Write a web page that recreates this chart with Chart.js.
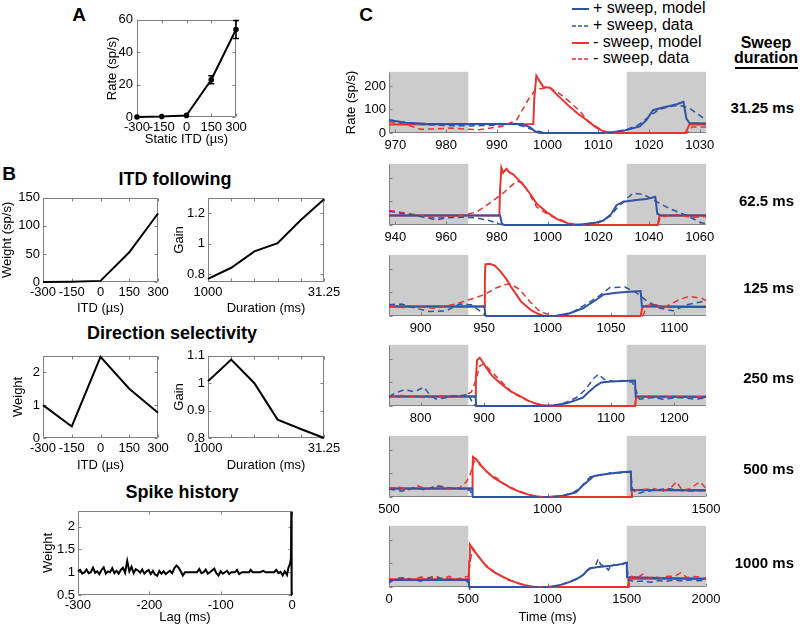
<!DOCTYPE html>
<html>
<head>
<meta charset="utf-8">
<script src="https://cdn.jsdelivr.net/npm/chart.js@4.4.0/dist/chart.umd.min.js"></script>
<style>
  body { margin: 0; background: #fff; }
  #fig { position: relative; width: 800px; height: 628px; overflow: hidden; background: #fff;
         font-family: 'Liberation Sans', Arial, Helvetica, sans-serif; color: #000; }
  #fig canvas { position: absolute; }
  .t { position: absolute; transform: translate(-50%, -50%); white-space: nowrap; line-height: 1; font-weight: bold; }
  .r { position: absolute; transform: translate(-100%, -50%); white-space: nowrap; line-height: 1; font-weight: bold; font-size: 15px; }
  .lg { position: absolute; transform: translate(0, -50%); white-space: nowrap; line-height: 1; font-size: 16px; }
  .lg svg { vertical-align: middle; margin-right: 4px; }
</style>
</head>
<body>
<div id="fig">
  <div class="t" style="left:79px;top:14px;font-size:19px">A</div>
  <div class="t" style="left:9px;top:173px;font-size:19px">B</div>
  <div class="t" style="left:366px;top:14px;font-size:19px">C</div>
  <div class="t" style="left:175px;top:179px;font-size:18px">ITD following</div>
  <div class="t" style="left:172px;top:333px;font-size:18px">Direction selectivity</div>
  <div class="t" style="left:182px;top:492px;font-size:18px">Spike history</div>

  <div class="lg" style="left:572px;top:8px"><svg width="17" height="4"><line x1="0" y1="2" x2="17" y2="2" stroke="#3153a4" stroke-width="2"/></svg>+ sweep, model</div>
  <div class="lg" style="left:572px;top:25px"><svg width="17" height="4"><line x1="0" y1="2" x2="17" y2="2" stroke="#3153a4" stroke-width="1.5" stroke-dasharray="4,2"/></svg>+ sweep, data</div>
  <div class="lg" style="left:572px;top:42px"><svg width="17" height="4"><line x1="0" y1="2" x2="17" y2="2" stroke="#e8332f" stroke-width="2"/></svg>- sweep, model</div>
  <div class="lg" style="left:572px;top:58px"><svg width="17" height="4"><line x1="0" y1="2" x2="17" y2="2" stroke="#e8332f" stroke-width="1.5" stroke-dasharray="4,2"/></svg>- sweep, data</div>

  <div class="t" style="left:766px;top:43px;font-size:16px">Sweep</div>
  <div class="t" style="left:766px;top:58px;font-size:16px">duration</div>
  <div style="position:absolute;left:735px;top:67px;width:63px;height:2px;background:#000"></div>
</div>

<script>
// ---- panel A: static ITD tuning
const itdX = [-300, -150, 0, 150, 300];
const aRate = [0, 0.3, 1, 23, 54];
const aErr = [0, 0, 0, 2.5, 5.5];

// ---- panel B: model filters
const itdWeight = [0, 0.5, 2, 53, 122];
const durLabels = ['1000', '500', '250', '125', '62.5', '31.25'];
const itdGain = [0.77, 0.843, 0.95, 1.004, 1.155, 1.29];
const dirWeight = [1.0, 0.35, 2.47, 1.5, 0.77];
const dirGain = [1.007, 1.086, 1.0, 0.867, 0.833, 0.8];

const spikeLag = [-300, -297, -294, -291, -288, -285, -282, -279, -276, -273, -270, -267, -264, -261, -258, -255,
  -252, -249, -246, -243, -240, -237, -234, -231, -228, -225, -222, -219, -216, -213, -210, -207, -204, -201,
  -198, -195, -192, -189, -186, -183, -180, -177, -174, -171, -168, -165, -162, -159, -156, -153, -150, -140,
  -133, -130, -127, -124, -121, -118, -115, -112, -109, -106, -103, -100, -97, -94, -91, -88, -85, -80, -77,
  -74, -70, -60, -58, -55, -45, -40, -37, -25, -22, -19, -16, -13, -10, -7, -5, -3, -1.5, -1, -0.5, 0];
const spikeWeight = [1.02, 1.05, 0.97, 1.0, 1.06, 0.98, 1.0, 1.1, 0.99, 1.02, 0.96, 1.05, 1.11, 0.97, 1.02, 1.0,
  1.09, 0.98, 1.03, 0.97, 1.05, 1.1, 0.99, 1.25, 1.02, 1.12, 0.98, 1.07, 1.04, 0.99, 1.06, 0.97, 1.02, 1.05,
  0.96, 1.03, 0.95, 0.92, 1.03, 0.97, 1.02, 0.96, 1.0, 1.03, 0.98, 1.09, 1.15, 1.1, 1.02, 0.93, 1.0, 1.0,
  1.0, 1.07, 0.98, 1.0, 1.06, 0.97, 1.0, 1.04, 1.08, 0.98, 0.93, 1.02, 0.97, 1.0, 1.03, 0.96, 1.0, 1.0, 1.05,
  0.96, 1.0, 1.0, 1.05, 1.0, 1.0, 1.03, 1.0, 1.0, 1.05, 0.98, 1.01, 0.93, 1.02, 0.94, 1.1, 1.18, 1.3, 2.33, 0.5, 0.5];

// ---- panel C: sweep responses, one entry per sweep duration
const sweepNames = ['31.25 ms', '62.5 ms', '125 ms', '250 ms', '500 ms', '1000 ms'];
const cRange = [[968.75, 1031.25], [937.5, 1062.5], [875, 1125], [750, 1250], [500, 1500], [0, 2000]];
const cTicks = [
  [970, 980, 990, 1000, 1010, 1020, 1030],
  [940, 960, 980, 1000, 1020, 1040, 1060],
  [900, 950, 1000, 1050, 1100],
  [800, 900, 1000, 1100, 1200],
  [500, 1000, 1500],
  [0, 500, 1000, 1500, 2000]
];
const cShade = [
  [[968.75, 984.375], [1015.625, 1031.25]],
  [[937.5, 968.75], [1031.25, 1062.5]],
  [[875, 937.5], [1062.5, 1125]],
  [[750, 875], [1125, 1250]],
  [[500, 750], [1250, 1500]],
  [[0, 500], [1500, 2000]]
];
const rateTicks = [0, 100, 200];

const blueModel = [
  [[968.75,55],[972,44],[976,39],[980,38],[990,38],[994.9,38],[996.5,25],[997.5,8],[998.2,1],[999,0],[1011,0],[1013,4],[1015,10],[1018.2,28],[1019.5,55],[1020.8,97],[1022.8,108],[1025.5,122],[1026.8,132],[1027.4,60],[1028,42],[1031.25,40]],
  [[937.5,40],[981.3,40],[982,5],[983,0],[1008,0],[1014,3],[1019,10],[1022,19],[1025,45],[1027.2,84],[1030,99],[1035,106],[1039,110],[1042.5,120],[1043.3,48],[1045,40],[1062.5,40]],
  [[875,40],[950.3,40],[951,3],[952,0],[1000,0],[1007,1],[1017.6,12],[1028,33],[1038.7,70],[1044,91],[1050,96],[1054.5,99],[1065,103],[1073.4,106],[1074.5,40],[1125,38]],
  [[750,40],[886.5,40],[887.5,3],[889,0],[995,0],[1010,3],[1030,12],[1045,25],[1056,36],[1065,60],[1077,87],[1085,100],[1100,104],[1120,106],[1138,108],[1139,40],[1250,38]],
  [[500,36],[762.5,36],[763.5,3],[765,0],[1000,0],[1050,5],[1090,20],[1112,50],[1130,70],[1145,88],[1170,95],[1200,100],[1230,105],[1263,108],[1264.5,30],[1500,28]],
  [[0,30],[504,30],[505.5,3],[507,0],[1000,0],[1036,3],[1090,10],[1141,22],[1185,35],[1225,51],[1250,70],[1267,80],[1310,84],[1352,87],[1400,90],[1436,94],[1470,98],[1500,104],[1502,42],[1700,38],[2000,35]]
];
const blueData = [
  [[968.75,55],[972,45],[976,35],[980,32],[985,30],[990,33],[993,38],[995,30],[997,15],[999,3],[1000,0],[1012,0],[1014,8],[1016,18],[1018,35],[1020,70],[1022,100],[1024,112],[1026,118],[1028,105],[1030,75],[1031.25,55]],
  [[937.5,58],[945,45],[952,32],[956,22],[960,30],[966,33],[972,30],[977,19],[981,4],[983,0],[1012,0],[1020.6,12],[1025,40],[1027.2,70],[1031,110],[1033.8,135],[1037.8,130],[1043,99],[1048,70],[1054.9,41],[1060,12],[1062.5,5]],
  [[875,48],[885,51],[896,33],[907,19],[920,22],[930.8,51],[940,48],[949,12],[952,0],[1005,0],[1017,7],[1038.7,77],[1049,120],[1061,123],[1070,99],[1078,65],[1088.7,33],[1099,22],[1110,48],[1123,62],[1125,60]],
  [[750,40],[760,55],[775,70],[790,60],[805,80],[815,45],[824.7,29],[840,35],[851,43],[867,45],[875,51],[883,7],[887,0],[1000,0],[1020,5],[1045.8,36],[1060,70],[1072,115],[1080,135],[1090,112],[1105,104],[1118,108],[1134,101],[1145,29],[1166,36],[1182,29],[1208,36],[1234,29],[1250,35]],
  [[500,33],[540,25],[580,39],[615,30],[650,48],[690,39],[730,35],[755,29],[762,10],[766,0],[1005,0],[1040,4],[1080,18],[1105,40],[1120,65],[1135,85],[1150,90],[1175,95],[1200,103],[1230,102],[1262,106],[1268,35],[1281,14],[1300,20],[1335,29],[1380,36],[1420,28],[1445,25],[1500,28]],
  [[0,18],[40,35],[100,40],[150,30],[200,25],[260,40],[300,38],[360,35],[420,30],[470,33],[500,20],[510,0],[1010,0],[1060,5],[1120,18],[1180,32],[1230,55],[1270,78],[1300,85],[1320,120],[1335,95],[1360,88],[1385,72],[1400,92],[1450,95],[1500,102],[1510,30],[1550,22],[1600,25],[1650,20],[1700,28],[1750,24],[1800,30],[1850,25],[1900,30],[1950,27],[2000,28]]
];
const redModel = [
  [[968.75,36],[980,37],[997.2,38],[997.4,150],[997.8,243],[998.6,215],[999.2,195],[1000.5,192],[1002,160],[1004.4,111],[1006,82],[1007.7,55],[1009.5,25],[1011,7],[1012,0],[1027.2,0],[1028,36],[1031.25,36]],
  [[937.5,40],[981,40],[981.3,150],[981.8,243],[982.5,222],[983.8,239],[985.1,222],[986.5,215],[987.8,200],[990.4,171],[993,135],[995.7,91],[999.6,55],[1003.6,26],[1008.8,4],[1011,0],[1043.5,0],[1044.2,40],[1062.5,40]],
  [[875,40],[950.3,40],[950.6,150],[951,219],[954.5,222],[958.4,214],[962.4,193],[967.6,157],[971,125],[975.5,91],[979,62],[983.4,41],[987,25],[991.3,12],[996.6,1],[998,0],[1073.4,0],[1075,40],[1083,48],[1090,40],[1125,40]],
  [[750,40],[886,40],[887,120],[889,195],[893,205],[897,190],[903,165],[912,130],[920,110],[930,87],[942,62],[956,43],[970,22],[982,10],[995,1],[1000,0],[1138,0],[1140,40],[1250,40]],
  [[500,36],[762,36],[763.5,120],[765,170],[776,159],[790,135],[807,109],[830,82],[860,58],[885,38],[913,22],[940,10],[965,3],[980,0],[1264,0],[1266,30],[1500,30]],
  [[0,33],[504,33],[506,110],[510,181],[531,159],[570,125],[615,87],[665,62],[720,43],[770,27],[825,14],[860,7],[888,3],[920,0],[1508,0],[1512,35],[2000,35]]
];
const redData = [
  [[968.75,48],[971,40],[973,30],[975,16],[978,17],[980.7,21],[983.5,17],[986.6,14],[991,28],[993.9,55],[996.5,153],[997.8,187],[1000.5,192],[1002.5,165],[1004.5,130],[1006.5,90],[1008,50],[1010,22],[1011.5,6],[1013,0],[1027.5,0],[1028.5,25],[1031.25,25]],
  [[937.5,62],[945.6,48],[956,30],[964,36],[972,55],[977,91],[982.5,135],[987.8,186],[990,181],[993,130],[995.7,77],[1000.9,40],[1008.8,7],[1012,0],[1043.5,0],[1044.5,33],[1051,45],[1056,33],[1062.5,35]],
  [[875,41],[886,36],[900,38],[912,33],[928,51],[938.7,70],[950.5,91],[959.7,120],[970,138],[978,113],[986,62],[994,19],[1002,4],[1006,0],[1075,0],[1078,33],[1083,55],[1091,33],[1104,70],[1112,84],[1122,74],[1125,65]],
  [[750,38],[770,45],[790,40],[810,35],[830,42],[850,38],[870,45],[880,60],[887,110],[893,170],[900,180],[910,150],[925,110],[945,55],[966.8,25],[980,12],[993,4],[1010,0],[1138,0],[1141,35],[1160,42],[1180,35],[1200,40],[1220,36],[1250,40]],
  [[500,36],[530,43],[560,29],[590,48],[620,33],[650,43],[690,35],[723,39],[744,65],[755,91],[768,152],[780,145],[800,118],[820,95],[840,80],[860,58],[880,45],[900,30],[920,20],[945,8],[965,3],[985,0],[1266,0],[1268,29],[1300,32],[1334,36],[1365,25],[1390,40],[1407,65],[1425,29],[1450,35],[1481,65],[1500,36]],
  [[0,20],[50,35],[100,40],[150,30],[200,42],[250,38],[290,48],[330,35],[380,45],[420,32],[470,42],[500,45],[515,120],[530,165],[560,135],[600,100],[640,78],[680,55],[720,42],[750,30],[790,22],[820,15],[860,8],[900,3],[940,0],[1510,0],[1530,45],[1570,40],[1600,55],[1640,38],[1680,44],[1720,38],[1760,46],[1800,45],[1840,60],[1880,40],[1920,45],[1960,42],[2000,38]]
];

const BLUE = '#3153a4', RED = '#e8332f';
Chart.defaults.font.family = "'Liberation Sans', Arial, Helvetica, sans-serif";
Chart.defaults.font.size = 13;
Chart.defaults.color = '#000';
Chart.defaults.animation = false;
Chart.defaults.plugins.legend.display = false;
Chart.defaults.plugins.tooltip.enabled = false;

// grey stimulus-free zones behind the traces
const shade = {
  id: 'shade',
  beforeDatasetsDraw(chart, args, opts) {
    if (!opts.ranges) return;
    const { ctx, chartArea: a, scales: { x } } = chart;
    ctx.save();
    ctx.fillStyle = '#cccccc';
    opts.ranges.forEach(([s, e]) => {
      const x0 = x.getPixelForValue(s), x1 = x.getPixelForValue(e);
      ctx.fillRect(x0, a.top, x1 - x0, a.bottom - a.top);
    });
    ctx.restore();
  }
};

// matlab-like axes: box + inward ticks
const frame = {
  id: 'frame',
  beforeDatasetsDraw(chart, args, opts) {
    const { ctx, chartArea: a, scales: { x, y } } = chart;
    const L = Math.round(a.left) + 0.5, R = Math.round(a.right) - 0.5;
    const T = Math.round(a.top) + 0.5, B = Math.round(a.bottom) - 0.5;
    const k = 3;
    ctx.save();
    ctx.strokeStyle = '#808080';
    ctx.lineWidth = 1;
    ctx.beginPath();
    if (opts.box) ctx.rect(L, T, R - L, B - T);
    else { ctx.moveTo(L, T); ctx.lineTo(L, B); ctx.lineTo(R, B); }
    x.ticks.forEach((t, i) => {
      const px = Math.round(x.getPixelForTick(i)) + 0.5;
      ctx.moveTo(px, B); ctx.lineTo(px, B - k);
      if (opts.box) { ctx.moveTo(px, T); ctx.lineTo(px, T + k); }
    });
    y.ticks.forEach((t, i) => {
      const py = Math.round(y.getPixelForTick(i)) + 0.5;
      ctx.moveTo(L, py); ctx.lineTo(L + k, py);
      if (opts.box) { ctx.moveTo(R, py); ctx.lineTo(R - k, py); }
    });
    ctx.stroke();
    ctx.restore();
  }
};

const errbars = {
  id: 'errbars',
  afterDatasetsDraw(chart, args, opts) {
    if (!opts.err) return;
    const { ctx, scales: { x, y } } = chart;
    ctx.save();
    ctx.strokeStyle = '#000';
    ctx.lineWidth = 1.5;
    opts.xs.forEach((v, i) => {
      const e = opts.err[i];
      if (!e) return;
      const px = x.getPixelForValue(v);
      const y0 = y.getPixelForValue(opts.ys[i] - e), y1 = y.getPixelForValue(opts.ys[i] + e);
      ctx.beginPath();
      ctx.moveTo(px, y0); ctx.lineTo(px, y1);
      ctx.moveTo(px - 3, y0); ctx.lineTo(px + 3, y0);
      ctx.moveTo(px - 3, y1); ctx.lineTo(px + 3, y1);
      ctx.stroke();
    });
    ctx.restore();
  }
};
Chart.register(shade, frame, errbars);

const fig = document.getElementById('fig');

function linAxis(min, max, ticks, title, hide, pad) {
  return {
    type: 'linear', min, max,
    grid: { display: false, drawTicks: false },
    border: { display: false },
    afterBuildTicks: s => { s.ticks = ticks.map(v => ({ value: v })); },
    ticks: { autoSkip: false, maxRotation: 0, padding: pad || 3, callback: v => hide ? '' : String(v) },
    title: title ? { display: true, text: title, padding: 0 } : { display: false }
  };
}

function durAxis(title) {
  return {
    type: 'category', offset: false,
    grid: { display: false, drawTicks: false },
    border: { display: false },
    ticks: { autoSkip: false, maxRotation: 0, padding: 3,
             callback: (v, i) => (i === 0 || i === durLabels.length - 1) ? durLabels[i] : '' },
    title: { display: true, text: title, padding: 0 }
  };
}

// box = plot area [left, top, width, height]; m = margins [top, right, bottom, left]
function makeChart(box, m, xAxis, yAxis, data, plugins) {
  const c = document.createElement('canvas');
  c.width = box[2] + m[1] + m[3];
  c.height = box[3] + m[0] + m[2];
  c.style.left = (box[0] - m[3]) + 'px';
  c.style.top = (box[1] - m[0]) + 'px';
  c.style.width = c.width + 'px';
  c.style.height = c.height + 'px';
  fig.appendChild(c);
  xAxis.afterFit = s => { s.height = m[2]; };
  yAxis.afterFit = s => { s.width = m[3]; };
  return new Chart(c, {
    type: 'line',
    data,
    options: {
      responsive: false,
      layout: { padding: { top: m[0], right: m[1], left: 0, bottom: 0 } },
      scales: { x: xAxis, y: yAxis },
      plugins
    }
  });
}

function blackLine(pts, w) {
  return { data: pts, borderColor: '#000', borderWidth: w || 2, pointRadius: 0, tension: 0, clip: 3 };
}

// A
makeChart([137, 18, 99, 99], [10, 25, 30, 32],
  linAxis(-300, 300, itdX, 'Static ITD (µs)'),
  linAxis(0, 60, [0, 20, 40, 60], 'Rate (sp/s)', false, 4),
  { datasets: [Object.assign(blackLine(itdX.map((x, i) => ({ x, y: aRate[i] }))),
      { pointRadius: 1.8, pointBackgroundColor: '#000', pointBorderColor: '#000' })] },
  { frame: { box: true }, errbars: { xs: itdX, ys: aRate, err: aErr } });

// B, ITD following
makeChart([43, 197, 115, 85], [10, 20, 34, 43],
  linAxis(-300, 300, itdX, 'ITD (µs)'),
  linAxis(0, 150, [0, 50, 100, 150], 'Weight (sp/s)'),
  { datasets: [blackLine(itdX.map((x, i) => ({ x, y: itdWeight[i] })))] },
  { frame: { box: true } });

makeChart([208, 197, 116, 85], [10, 22, 34, 36],
  durAxis('Duration (ms)'),
  linAxis(0.75, 1.3, [0.8, 1, 1.2], 'Gain'),
  { labels: durLabels, datasets: [blackLine(itdGain)] },
  { frame: { box: true } });

// B, direction selectivity
makeChart([43, 355, 115, 83], [10, 20, 35, 32],
  linAxis(-300, 300, itdX, 'ITD (µs)'),
  linAxis(0, 2.5, [0, 1, 2], 'Weight'),
  { datasets: [blackLine(itdX.map((x, i) => ({ x, y: dirWeight[i] })))] },
  { frame: { box: true } });

makeChart([208, 355, 116, 83], [10, 22, 35, 36],
  durAxis('Duration (ms)'),
  linAxis(0.8, 1.1, [0.8, 0.9, 1, 1.1], 'Gain'),
  { labels: durLabels, datasets: [blackLine(dirGain)] },
  { frame: { box: true } });

// B, spike history
makeChart([78, 510, 214, 85], [10, 20, 30, 37],
  linAxis(-300, 0, [-300, -200, -100, 0], 'Lag (ms)'),
  linAxis(0.5, 2.35, [0.5, 1, 1.5, 2], 'Weight'),
  { datasets: [blackLine(spikeLag.map((x, i) => ({ x, y: spikeWeight[i] })), 2)] },
  { frame: { box: true } });

// C
function trace(pts, color, dashed) {
  return {
    data: pts.map(p => ({ x: p[0], y: p[1] })),
    borderColor: color,
    borderWidth: dashed ? 1.5 : 2,
    borderDash: dashed ? [6, 4] : [],
    pointRadius: 0, tension: 0, clip: 3
  };
}

const cTops = [71, 163, 254, 344, 435, 525];
const cLabelY = [107, 200, 287, 377, 468, 562];
sweepNames.forEach((name, i) => {
  const last = i === sweepNames.length - 1;
  makeChart([389, cTops[i], 317, 62], [10, 22, last ? 38 : 20, 45],
    linAxis(cRange[i][0], cRange[i][1], cTicks[i], last ? 'Time (ms)' : null, false, 5),
    linAxis(0, 260, rateTicks, i === 0 ? 'Rate (sp/s)' : null, i !== 0),
    { datasets: [
        trace(blueData[i], BLUE, true),
        trace(redData[i], RED, true),
        trace(blueModel[i], BLUE, false),
        trace(redModel[i], RED, false)
      ] },
    { shade: { ranges: cShade[i] }, frame: { box: false } });

  const lab = document.createElement('div');
  lab.className = 'r';
  lab.style.left = '794px';
  lab.style.top = cLabelY[i] + 'px';
  lab.textContent = name;
  fig.appendChild(lab);
});
</script>
</body>
</html>
